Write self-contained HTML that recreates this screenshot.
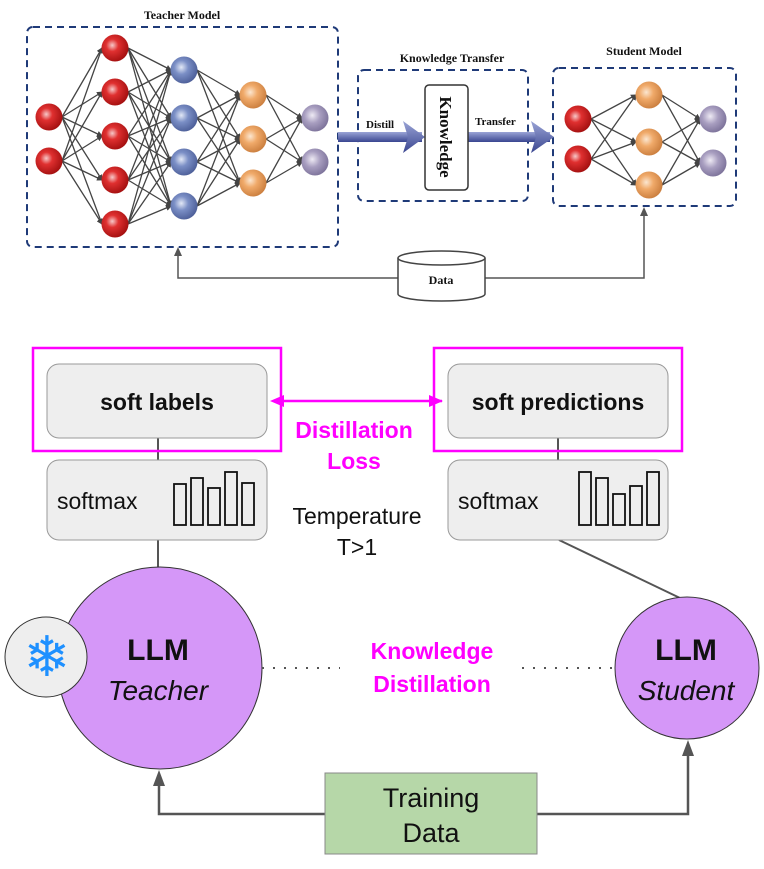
<!DOCTYPE html>
<html><head><meta charset="utf-8"><style>
html,body{margin:0;padding:0;background:#fff;}
svg{display:block}
.s{font-family:"Liberation Serif",serif;font-weight:bold;fill:#111}
.l{font-family:"Liberation Sans",sans-serif}
</style></head><body>
<svg width="764" height="869" viewBox="0 0 764 869" xmlns="http://www.w3.org/2000/svg">
<defs>
<radialGradient id="gr" cx="40%" cy="40%" r="65%"><stop offset="0" stop-color="#f6c8c8"/><stop offset="0.35" stop-color="#e03030"/><stop offset="1" stop-color="#a00e0e"/></radialGradient>
<radialGradient id="gb" cx="40%" cy="40%" r="65%"><stop offset="0" stop-color="#e2e8f6"/><stop offset="0.4" stop-color="#7b8fc6"/><stop offset="1" stop-color="#4a5c96"/></radialGradient>
<radialGradient id="go" cx="40%" cy="40%" r="65%"><stop offset="0" stop-color="#fbe6d0"/><stop offset="0.4" stop-color="#f0aa6a"/><stop offset="1" stop-color="#c97c3c"/></radialGradient>
<radialGradient id="gp" cx="40%" cy="40%" r="65%"><stop offset="0" stop-color="#eeeaf4"/><stop offset="0.45" stop-color="#a89ec0"/><stop offset="1" stop-color="#7a7098"/></radialGradient>
<linearGradient id="ga" x1="0" y1="0" x2="0" y2="1"><stop offset="0" stop-color="#9aa4d6"/><stop offset="1" stop-color="#3a4690"/></linearGradient>
<marker id="m" markerWidth="6" markerHeight="6" refX="5" refY="3" orient="auto" markerUnits="userSpaceOnUse"><path d="M0,0 L6,3 L0,6z" fill="#444"/></marker>
<marker id="mp" markerWidth="14" markerHeight="12" refX="13" refY="6" orient="auto" markerUnits="userSpaceOnUse"><path d="M0,0 L14,6 L0,12z" fill="#f0f"/></marker>
</defs>

<text x="182" y="19" class="s" font-size="12" text-anchor="middle">Teacher Model</text>
<rect x="27" y="27" width="311" height="220" rx="6" fill="none" stroke="#1f3a78" stroke-width="2" stroke-dasharray="7,5"/>
<text x="452" y="62" class="s" font-size="12" text-anchor="middle">Knowledge Transfer</text>
<rect x="358" y="70" width="170" height="131" rx="6" fill="none" stroke="#1f3a78" stroke-width="2" stroke-dasharray="7,5"/>
<text x="644" y="55" class="s" font-size="12" text-anchor="middle">Student Model</text>
<rect x="553" y="68" width="183" height="138" rx="6" fill="none" stroke="#1f3a78" stroke-width="2" stroke-dasharray="7,5"/>

<g stroke="#444" stroke-width="1.3" marker-end="url(#m)">
<line x1="62" y1="117" x2="102" y2="48"/><line x1="62" y1="117" x2="102" y2="92"/><line x1="62" y1="117" x2="102" y2="136"/><line x1="62" y1="117" x2="102" y2="180"/><line x1="62" y1="117" x2="102" y2="224"/>
<line x1="62" y1="161" x2="102" y2="48"/><line x1="62" y1="161" x2="102" y2="92"/><line x1="62" y1="161" x2="102" y2="136"/><line x1="62" y1="161" x2="102" y2="180"/><line x1="62" y1="161" x2="102" y2="224"/>
<line x1="128" y1="48" x2="171" y2="70"/><line x1="128" y1="48" x2="171" y2="118"/><line x1="128" y1="48" x2="171" y2="162"/><line x1="128" y1="48" x2="171" y2="206"/>
<line x1="128" y1="92" x2="171" y2="70"/><line x1="128" y1="92" x2="171" y2="118"/><line x1="128" y1="92" x2="171" y2="162"/><line x1="128" y1="92" x2="171" y2="206"/>
<line x1="128" y1="136" x2="171" y2="70"/><line x1="128" y1="136" x2="171" y2="118"/><line x1="128" y1="136" x2="171" y2="162"/><line x1="128" y1="136" x2="171" y2="206"/>
<line x1="128" y1="180" x2="171" y2="70"/><line x1="128" y1="180" x2="171" y2="118"/><line x1="128" y1="180" x2="171" y2="162"/><line x1="128" y1="180" x2="171" y2="206"/>
<line x1="128" y1="224" x2="171" y2="70"/><line x1="128" y1="224" x2="171" y2="118"/><line x1="128" y1="224" x2="171" y2="162"/><line x1="128" y1="224" x2="171" y2="206"/>
<line x1="197" y1="70" x2="240" y2="95"/><line x1="197" y1="70" x2="240" y2="139"/><line x1="197" y1="70" x2="240" y2="183"/>
<line x1="197" y1="118" x2="240" y2="95"/><line x1="197" y1="118" x2="240" y2="139"/><line x1="197" y1="118" x2="240" y2="183"/>
<line x1="197" y1="162" x2="240" y2="95"/><line x1="197" y1="162" x2="240" y2="139"/><line x1="197" y1="162" x2="240" y2="183"/>
<line x1="197" y1="206" x2="240" y2="95"/><line x1="197" y1="206" x2="240" y2="139"/><line x1="197" y1="206" x2="240" y2="183"/>
<line x1="266" y1="95" x2="302" y2="118"/><line x1="266" y1="95" x2="302" y2="162"/>
<line x1="266" y1="139" x2="302" y2="118"/><line x1="266" y1="139" x2="302" y2="162"/>
<line x1="266" y1="183" x2="302" y2="118"/><line x1="266" y1="183" x2="302" y2="162"/>
<line x1="591" y1="119" x2="636" y2="95"/><line x1="591" y1="119" x2="636" y2="142"/><line x1="591" y1="119" x2="636" y2="185"/>
<line x1="591" y1="159" x2="636" y2="95"/><line x1="591" y1="159" x2="636" y2="142"/><line x1="591" y1="159" x2="636" y2="185"/>
<line x1="662" y1="95" x2="700" y2="119"/><line x1="662" y1="95" x2="700" y2="163"/>
<line x1="662" y1="142" x2="700" y2="119"/><line x1="662" y1="142" x2="700" y2="163"/>
<line x1="662" y1="185" x2="700" y2="119"/><line x1="662" y1="185" x2="700" y2="163"/>
</g>
<g>
<circle cx="49" cy="117" r="13.5" fill="url(#gr)"/><circle cx="49" cy="161" r="13.5" fill="url(#gr)"/>
<circle cx="115" cy="48" r="13.5" fill="url(#gr)"/><circle cx="115" cy="92" r="13.5" fill="url(#gr)"/><circle cx="115" cy="136" r="13.5" fill="url(#gr)"/><circle cx="115" cy="180" r="13.5" fill="url(#gr)"/><circle cx="115" cy="224" r="13.5" fill="url(#gr)"/>
<circle cx="184" cy="70" r="13.5" fill="url(#gb)"/><circle cx="184" cy="118" r="13.5" fill="url(#gb)"/><circle cx="184" cy="162" r="13.5" fill="url(#gb)"/><circle cx="184" cy="206" r="13.5" fill="url(#gb)"/>
<circle cx="253" cy="95" r="13.5" fill="url(#go)"/><circle cx="253" cy="139" r="13.5" fill="url(#go)"/><circle cx="253" cy="183" r="13.5" fill="url(#go)"/>
<circle cx="315" cy="118" r="13.5" fill="url(#gp)"/><circle cx="315" cy="162" r="13.5" fill="url(#gp)"/>
<circle cx="578" cy="119" r="13.5" fill="url(#gr)"/><circle cx="578" cy="159" r="13.5" fill="url(#gr)"/>
<circle cx="649" cy="95" r="13.5" fill="url(#go)"/><circle cx="649" cy="142" r="13.5" fill="url(#go)"/><circle cx="649" cy="185" r="13.5" fill="url(#go)"/>
<circle cx="713" cy="119" r="13.5" fill="url(#gp)"/><circle cx="713" cy="163" r="13.5" fill="url(#gp)"/>
</g>
<rect x="338" y="132" width="84" height="10" fill="url(#ga)"/>
<path d="M403,121 L425,137 L403,153 L408,137z" fill="url(#ga)"/>
<rect x="468" y="132" width="82" height="10" fill="url(#ga)"/>
<path d="M531,121 L554,137 L531,153 L536,137z" fill="url(#ga)"/>
<text x="366" y="128" class="s" font-size="11">Distill</text>
<text x="475" y="125" class="s" font-size="11">Transfer</text>
<rect x="425" y="85" width="43" height="105" rx="4" fill="#fff" stroke="#333" stroke-width="1.5"/>
<text transform="translate(440,137) rotate(90)" class="s" font-size="17" text-anchor="middle">Knowledge</text>
<polyline points="398,278 178,278 178,252" fill="none" stroke="#555" stroke-width="1.5"/>
<path d="M174,256 L178,247 L182,256z" fill="#555"/>
<polyline points="485,278 644,278 644,212" fill="none" stroke="#555" stroke-width="1.5"/>
<path d="M640,216 L644,207 L648,216z" fill="#555"/>
<path d="M398,258 L398,294 A43.5,7 0 0 0 485,294 L485,258" fill="#fff" stroke="#444" stroke-width="1.5"/>
<ellipse cx="441.5" cy="258" rx="43.5" ry="7" fill="#fff" stroke="#444" stroke-width="1.5"/>
<text x="441" y="284" class="s" font-size="12" text-anchor="middle">Data</text>

<line x1="158" y1="438" x2="158" y2="568" stroke="#555" stroke-width="2"/>
<line x1="558" y1="438" x2="558" y2="460" stroke="#555" stroke-width="2"/>
<line x1="559" y1="540" x2="680" y2="598" stroke="#555" stroke-width="2"/>
<rect x="47" y="364" width="220" height="74" rx="12" fill="#eeeeee" stroke="#999" stroke-width="1"/>
<rect x="448" y="364" width="220" height="74" rx="12" fill="#eeeeee" stroke="#999" stroke-width="1"/>
<rect x="33" y="348" width="248" height="103" fill="none" stroke="#f0f" stroke-width="2.5"/>
<rect x="434" y="348" width="248" height="103" fill="none" stroke="#f0f" stroke-width="2.5"/>
<text x="157" y="410" class="l" font-size="23" font-weight="bold" text-anchor="middle" fill="#111">soft labels</text>
<text x="558" y="410" class="l" font-size="23" font-weight="bold" text-anchor="middle" fill="#111">soft predictions</text>
<line x1="275" y1="401" x2="442" y2="401" stroke="#f0f" stroke-width="2.5" marker-end="url(#mp)"/>
<path d="M270,401 L284,395 L284,407z" fill="#f0f"/>
<text x="354" y="438" class="l" font-size="23" font-weight="bold" text-anchor="middle" fill="#f0f">Distillation</text>
<text x="354" y="469" class="l" font-size="23" font-weight="bold" text-anchor="middle" fill="#f0f">Loss</text>
<rect x="47" y="460" width="220" height="80" rx="12" fill="#eeeeee" stroke="#999" stroke-width="1"/>
<rect x="448" y="460" width="220" height="80" rx="12" fill="#eeeeee" stroke="#999" stroke-width="1"/>
<text x="57" y="509" class="l" font-size="23" fill="#111">softmax</text>
<text x="458" y="509" class="l" font-size="23" fill="#111">softmax</text>
<g fill="none" stroke="#111" stroke-width="1.8">
<rect x="174" y="484" width="12" height="41"/><rect x="191" y="478" width="12" height="47"/><rect x="208" y="488" width="12" height="37"/><rect x="225" y="472" width="12" height="53"/><rect x="242" y="483" width="12" height="42"/>
<rect x="579" y="472" width="12" height="53"/><rect x="596" y="478" width="12" height="47"/><rect x="613" y="494" width="12" height="31"/><rect x="630" y="486" width="12" height="39"/><rect x="647" y="472" width="12" height="53"/>
</g>
<text x="357" y="524" class="l" font-size="23" text-anchor="middle" fill="#111">Temperature</text>
<text x="357" y="555" class="l" font-size="23" text-anchor="middle" fill="#111">T&gt;1</text>

<ellipse cx="160" cy="668" rx="102" ry="101" fill="#d597f8" stroke="#333" stroke-width="1"/>
<ellipse cx="46" cy="657" rx="41" ry="40" fill="#eeeeee" stroke="#333" stroke-width="1"/>
<text x="47" y="676" font-size="56" font-weight="bold" text-anchor="middle" fill="#1e90ff" font-family="DejaVu Sans,sans-serif">❄</text>
<text x="158" y="660" class="l" font-size="30" font-weight="bold" text-anchor="middle" fill="#111">LLM</text>
<text x="158" y="700" class="l" font-size="28" font-style="italic" text-anchor="middle" fill="#111">Teacher</text>
<ellipse cx="687" cy="668" rx="72" ry="71" fill="#d597f8" stroke="#333" stroke-width="1"/>
<text x="686" y="660" class="l" font-size="30" font-weight="bold" text-anchor="middle" fill="#111">LLM</text>
<text x="686" y="700" class="l" font-size="28" font-style="italic" text-anchor="middle" fill="#111">Student</text>
<line x1="262" y1="668" x2="340" y2="668" stroke="#555" stroke-width="2" stroke-dasharray="2,9"/>
<line x1="522" y1="668" x2="612" y2="668" stroke="#555" stroke-width="2" stroke-dasharray="2,9"/>
<text x="432" y="659" class="l" font-size="23" font-weight="bold" text-anchor="middle" fill="#f0f">Knowledge</text>
<text x="432" y="692" class="l" font-size="23" font-weight="bold" text-anchor="middle" fill="#f0f">Distillation</text>

<polyline points="325,814 159,814 159,782" fill="none" stroke="#555" stroke-width="2.5"/>
<path d="M153,786 L159,770 L165,786z" fill="#555"/>
<polyline points="537,814 688,814 688,752" fill="none" stroke="#555" stroke-width="2.5"/>
<path d="M682,756 L688,740 L694,756z" fill="#555"/>
<rect x="325" y="773" width="212" height="81" fill="#b6d7a8" stroke="#888" stroke-width="1"/>
<text x="431" y="807" class="l" font-size="27" text-anchor="middle" fill="#111">Training</text>
<text x="431" y="842" class="l" font-size="27" text-anchor="middle" fill="#111">Data</text>
</svg>
</body></html>
